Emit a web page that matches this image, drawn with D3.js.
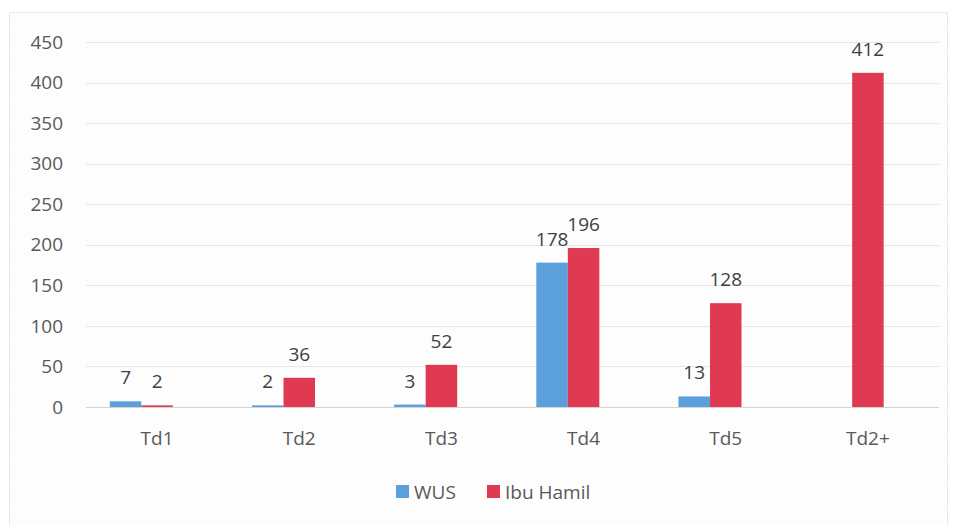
<!DOCTYPE html>
<html>
<head>
<meta charset="utf-8">
<script src="https://cdn.jsdelivr.net/npm/d3@7"></script>
<style>
  body { margin: 0; background: #ffffff; }
  svg text { font-family: "Open Sans", "Noto Sans", sans-serif; fill: #595959; }
</style>
</head>
<body>
<div id="chart"></div>
<script>
    // data
    var categories = ["Td1", "Td2", "Td3", "Td4", "Td5", "Td2+"];
    var wus = [7, 2, 3, 178, 13, null];
    var ibuHamil = [2, 36, 52, 196, 128, 412];
    var yTicks = [0, 50, 100, 150, 200, 250, 300, 350, 400, 450];
    var seriesNames = ["WUS", "Ibu Hamil"];
    var seriesColors = ["#5b9fdc", "#e03a52"];

    var width = 956,
        height = 525;

    var svg = d3.select("#chart").append("svg")
        .attr("width", width)
        .attr("height", height);

    // chart frame
    svg.append("rect")
        .attr("x", 9.5).attr("y", 12.5)
        .attr("width", 938).attr("height", 520)
        .attr("fill", "#fdfdfd")
        .attr("stroke", "#dedede")
        .attr("stroke-dasharray", "2,1");

    var x = d3.scaleBand()
        .domain(categories)
        .range([86, 939])
        .paddingInner(0.335)
        .paddingOuter(0.1675);

    // original chart has a third, empty series slot, so the red bar sits in the middle
    var xSub = d3.scaleBand()
        .domain(["WUS", "Ibu Hamil", "empty"])
        .range([0, x.bandwidth()]);

    var y = d3.scaleLinear()
        .domain([0, 450])
        .range([407, 42]);

    // gridlines
    svg.append("g").selectAll("line")
        .data(yTicks)
        .enter().append("line")
        .attr("x1", 86).attr("x2", 939)
        .attr("y1", function (d) { return Math.round(y(d)) + 0.5; })
        .attr("y2", function (d) { return Math.round(y(d)) + 0.5; })
        .attr("stroke", function (d) { return d === 0 ? "#d4d4d4" : "#e6e6e6"; })
        .attr("stroke-width", 1);

    // y tick labels
    svg.append("g").selectAll("text")
        .data(yTicks)
        .enter().append("text")
        .attr("x", 63)
        .attr("y", function (d) { return y(d); })
        .attr("dy", "0.35em")
        .attr("text-anchor", "end")
        .attr("font-size", 19)
        .text(function (d) { return d; });

    // x labels
    svg.append("g").selectAll("text")
        .data(categories)
        .enter().append("text")
        .attr("x", function (d) { return x(d) + x.bandwidth() / 2; })
        .attr("y", 445)
        .attr("text-anchor", "middle")
        .attr("font-size", 19)
        .text(function (d) { return d; });

    var rows = [];
    categories.forEach(function (c, i) {
        rows.push({cat: c, series: "WUS", value: wus[i], color: seriesColors[0]});
        rows.push({cat: c, series: "Ibu Hamil", value: ibuHamil[i], color: seriesColors[1]});
    });
    rows = rows.filter(function (d) { return d.value !== null; });

    svg.append("g").selectAll("rect")
        .data(rows)
        .enter().append("rect")
        .attr("x", function (d) { return x(d.cat) + xSub(d.series); })
        .attr("width", xSub.bandwidth())
        .attr("y", function (d) { return y(d.value); })
        .attr("height", function (d) { return y(0) - y(d.value); })
        .attr("fill", function (d) { return d.color; });

    svg.append("g").selectAll("text")
        .data(rows)
        .enter().append("text")
        .attr("x", function (d) { return x(d.cat) + xSub(d.series) + xSub.bandwidth() / 2; })
        .attr("y", function (d) { return y(d.value) - 17; })
        .attr("text-anchor", "middle")
        .attr("font-size", 19)
        .attr("fill", "#404040")
        .style("fill", "#404040")
        .text(function (d) { return d.value; });

    // legend
    var legendX = [396, 487];
    var legend = svg.append("g").selectAll("g")
        .data(seriesNames)
        .enter().append("g")
        .attr("transform", function (d, i) { return "translate(" + legendX[i] + ",485)"; });

    legend.append("rect")
        .attr("width", 13).attr("height", 13)
        .attr("fill", function (d, i) { return seriesColors[i]; });

    legend.append("text")
        .attr("x", 18)
        .attr("y", 7)
        .attr("dy", "0.35em")
        .attr("font-size", 19)
        .text(function (d) { return d; });
</script>
</body>
</html>
